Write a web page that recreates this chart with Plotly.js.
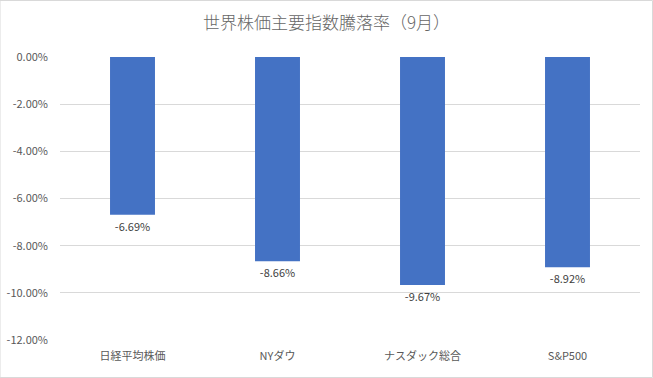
<!DOCTYPE html>
<html>
<head>
<meta charset="utf-8">
<script src="https://cdn.plot.ly/plotly-3.0.1.min.js"></script>
<style>
html,body{margin:0;padding:0;background:#fff;}
#chart{width:653px;height:378px;}
</style>
</head>
<body>
<div id="chart"></div>
<script>
const categories = ["日経平均株価", "NYダウ", "ナスダック総合", "S&P500"];
const changes = [-0.0669, -0.0866, -0.0967, -0.0892];
const yTicks = [0, -0.02, -0.04, -0.06, -0.08, -0.10, -0.12];

const fmt = v => (v < 0 ? "-" : "") + Math.abs(v * 100).toFixed(2) + "%";

const trace = {
  type: "bar",
  x: categories,
  y: changes,
  marker: {color: "#4472C4"},
  width: 0.31,
  text: changes.map(fmt),
  textposition: "outside",
  cliponaxis: false,
  textfont: {family: "Noto Sans CJK JP, sans-serif", size: 11, color: "#404040"},
  hoverinfo: "none"
};

const layout = {
  width: 653,
  height: 378,
  margin: {l: 60, r: 13, t: 57, b: 38},
  paper_bgcolor: "#ffffff",
  plot_bgcolor: "#ffffff",
  showlegend: false,
  title: {
    text: "世界株価主要指数騰落率（9月）",
    font: {family: "Noto Sans CJK JP, sans-serif", size: 17, color: "#666666", weight: 300},
    x: 0.5, xanchor: "center", y: 0.94, yanchor: "middle"
  },
  xaxis: {
    type: "category",
    tickfont: {family: "Noto Sans CJK JP, sans-serif", size: 11, color: "#595959"},
    showline: false, ticks: "", showgrid: false, zeroline: false,
    ticklabelstandoff: 8
  },
  yaxis: {
    range: [-0.12, 0],
    tickvals: yTicks,
    ticktext: yTicks.map(v => v === 0 ? "0.00%" : fmt(v)),
    tickfont: {family: "Noto Sans CJK JP, sans-serif", size: 11, color: "#595959"},
    gridcolor: "#d9d9d9", gridwidth: 1,
    zeroline: false, showline: false, ticks: "",
    ticklabelstandoff: 11
  },
  bargap: 0.69,
  shapes: [{
    type: "rect", xref: "paper", yref: "paper",
    x0: -60/580, x1: 1 + 12.5/580, y0: -37.5/283, y1: 1 + 56.5/283,
    line: {color: "#d9d9d9", width: 1}, fillcolor: "rgba(0,0,0,0)", layer: "below"
  }]
};

Plotly.newPlot("chart", [trace], layout, {displayModeBar: false, staticPlot: true});
</script>
</body>
</html>
